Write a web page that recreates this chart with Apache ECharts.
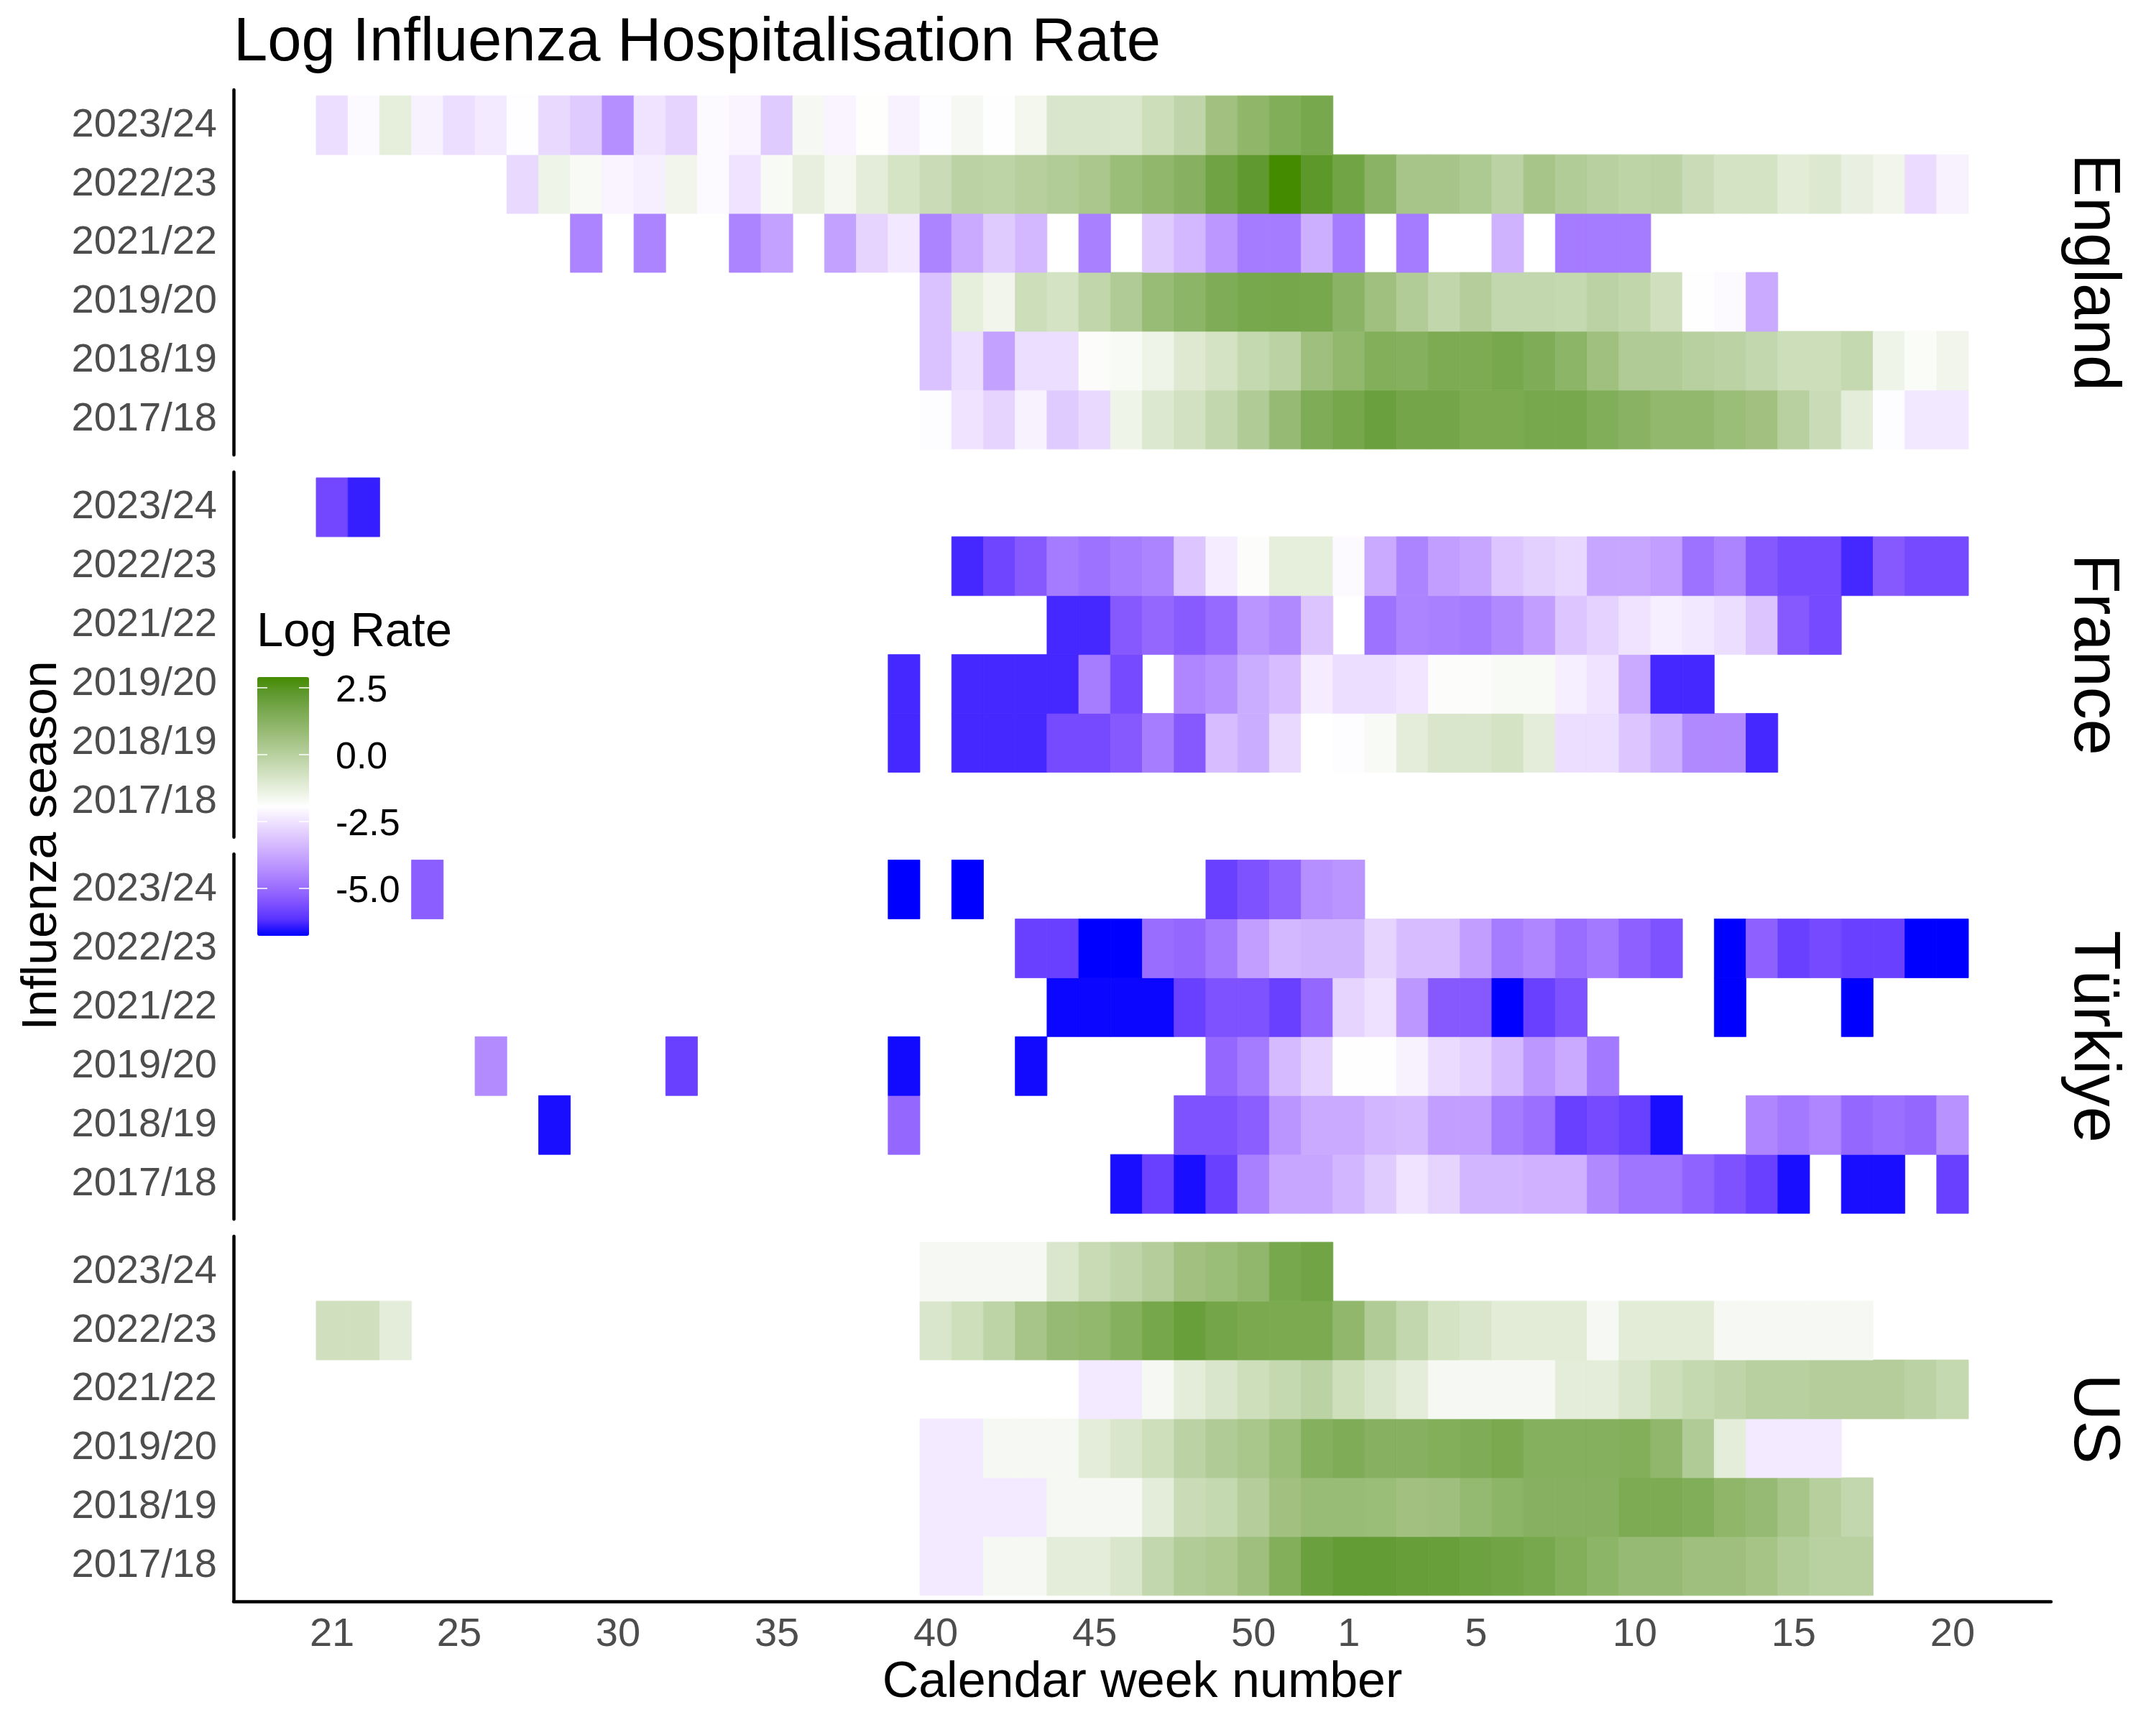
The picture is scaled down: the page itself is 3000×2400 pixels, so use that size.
<!DOCTYPE html>
<html>
<head>
<meta charset="utf-8">
<script src="https://cdn.jsdelivr.net/npm/echarts@6/dist/echarts.min.js"></script>
<style>
html,body{margin:0;padding:0;background:#fff;}
#chart{width:3000px;height:2400px;}
</style>
</head>
<body>
<div id="chart"></div>
<script>
const _ = null;

// x categories: calendar weeks in season order
const weeks = [21,22,23,24,25,26,27,28,29,30,31,32,33,34,35,36,37,38,39,40,41,42,43,44,45,46,47,48,49,50,51,52,
               1,2,3,4,5,6,7,8,9,10,11,12,13,14,15,16,17,18,19,20];
const tickWeeks = [21,25,30,35,40,45,50,1,5,10,15,20];
const seasons = ['2017/18','2018/19','2019/20','2021/22','2022/23','2023/24']; // bottom -> top
const countries = ['England','France','Türkiye','US'];
const legendTicks = [2.5, 0, -2.5, -5];
const valueRange = [-6.77, 2.9];

// Each row: weeks 21-30 | 31-40 | 41-52 | 1-10 | 11-20
const England_2324 = [-2.6,-2.05,-1.25,-2.2,-2.6,-2.35,-1.98,-2.7,-3.0,-4.3,
  -2.5,-2.8,-2.03,-2.15,-3.0,-1.7,-2.15,-1.9,-2.2,-2.0,
  -1.7,-1.95,-1.6,-0.9,-0.9,-0.95,-0.58,-0.2,0.6,1.1,1.45,1.7,
  _,_,_,_,_,_,_,_,_,_,
  _,_,_,_,_,_,_,_,_,_];
const England_2223 = [_,_,_,_,_,_,-2.7,-1.5,-1.75,-2.15,
  -2.25,-1.55,-2.05,-2.5,-1.75,-1.3,-1.65,-1.2,-0.8,-0.5,
  -0.1,-0.15,0.05,0.15,0.35,0.8,1.05,1.3,1.9,2.3,2.9,2.35,
  1.85,1.2,0.45,0.45,0.25,-0.1,0.45,0.15,0.0,-0.15,
  -0.1,-0.5,-0.75,-0.75,-1.15,-1.0,-1.35,-1.55,-2.65,-2.2];
const England_2122 = [_,_,_,_,_,_,_,_,-4.5,_,
  -4.5,_,_,-4.5,-3.9,_,-3.9,-2.8,-2.4,-4.5,
  -3.7,-3.0,-3.4,_,-4.6,_,-3.0,-3.4,-4.1,-4.7,-4.7,-3.6,
  -4.7,_,-4.7,_,_,-3.5,_,-4.7,-4.7,-4.7,
  _,_,_,_,_,_,_,_,_,_];
const England_1920 = [_,_,_,_,_,_,_,_,_,_,
  _,_,_,_,_,_,_,_,_,-3.2,
  -1.25,-1.55,-0.55,-0.75,-0.25,0.2,0.85,1.15,1.5,1.7,1.75,1.7,
  1.2,0.65,0.15,-0.25,0.1,-0.3,-0.3,-0.35,-0.1,-0.25,
  -0.65,-1.95,-2.05,-3.7,_,_,_,_,_,_];
const England_1819 = [_,_,_,_,_,_,_,_,_,_,
  _,_,_,_,_,_,_,_,_,-3.2,
  -2.6,-3.9,-2.6,-2.6,-1.85,-1.75,-1.5,-1.05,-0.75,-0.35,-0.1,0.7,
  1.0,1.4,1.35,1.55,1.55,1.7,1.5,1.15,0.65,0.2,
  0.2,0.0,-0.1,-0.3,-0.55,-0.55,-0.35,-1.5,-1.8,-1.55];
const England_1718 = [_,_,_,_,_,_,_,_,_,_,
  _,_,_,_,_,_,_,_,_,-2.0,
  -2.5,-2.8,-2.2,-3.0,-2.7,-1.5,-1.0,-0.7,-0.3,0.2,0.9,1.5,
  1.75,2.0,1.8,1.8,1.6,1.6,1.7,1.7,1.45,1.25,
  1.0,1.0,0.8,0.6,0.0,-0.5,-1.2,-2.0,-2.4,-2.4];

const France_2324 = [-5.75,-6.4,_,_,_,_,_,_,_,_,
  _,_,_,_,_,_,_,_,_,_,
  _,_,_,_,_,_,_,_,_,_,_,_,
  _,_,_,_,_,_,_,_,_,_,
  _,_,_,_,_,_,_,_,_,_];
const France_2223 = [_,_,_,_,_,_,_,_,_,_,
  _,_,_,_,_,_,_,_,_,_,
  -6.3,-5.8,-5.4,-4.7,-4.9,-4.65,-4.5,-3.1,-2.3,-1.85,-1.25,-1.25,
  -2.05,-3.7,-4.5,-3.95,-3.8,-3.1,-2.9,-2.75,-3.8,-3.8,
  -3.95,-4.9,-4.5,-5.4,-5.7,-5.7,-6.3,-5.4,-5.7,-5.7];
const France_2122 = [_,_,_,_,_,_,_,_,_,_,
  _,_,_,_,_,_,_,_,_,_,
  _,_,_,-6.3,-6.3,-5.4,-5.1,-5.35,-5.05,-4.15,-4.4,-3.15,
  _,-4.9,-4.5,-4.6,-4.7,-4.4,-3.95,-3.1,-2.85,-2.5,
  -2.25,-2.4,-2.6,-3.15,-5.4,-5.7,_,_,_,_];
const France_1920 = [_,_,_,_,_,_,_,_,_,_,
  _,_,_,_,_,_,_,_,-6.3,_,
  -6.3,-6.3,-6.3,-6.3,-4.65,-5.7,_,-4.45,-4.25,-3.65,-3.3,-2.3,
  -2.6,-2.6,-2.45,-1.85,-1.85,-1.75,-1.75,-2.25,-2.5,-3.7,
  -6.3,-6.3,_,_,_,_,_,_,_,_];
const France_1819 = [_,_,_,_,_,_,_,_,_,_,
  _,_,_,_,_,_,_,_,-6.3,_,
  -6.3,-6.3,-6.3,-5.7,-5.7,-5.4,-4.65,-5.4,-3.3,-3.65,-2.7,-1.93,
  -2.0,-1.75,-1.2,-0.9,-0.9,-0.75,-1.2,-2.6,-2.6,-3.1,
  -3.6,-4.4,-4.4,-6.3,_,_,_,_,_,_];
const France_1718 = [_,_,_,_,_,_,_,_,_,_,
  _,_,_,_,_,_,_,_,_,_,
  _,_,_,_,_,_,_,_,_,_,_,_,
  _,_,_,_,_,_,_,_,_,_,
  _,_,_,_,_,_,_,_,_,_];

const Turkiye_2324 = [_,_,_,-5.3,_,_,_,_,_,_,
  _,_,_,_,_,_,_,_,-6.77,_,
  -6.77,_,_,_,_,_,_,_,-5.9,-5.55,-5.2,-4.3,
  -4.15,_,_,_,_,_,_,_,_,_,
  _,_,_,_,_,_,_,_,_,_];
const Turkiye_2223 = [_,_,_,_,_,_,_,_,_,_,
  _,_,_,_,_,_,_,_,_,_,
  _,_,-5.9,-5.9,-6.77,-6.77,-5.0,-5.1,-4.75,-3.95,-3.4,-3.5,
  -3.5,-2.8,-3.3,-3.3,-3.95,-4.7,-4.45,-5.0,-4.75,-5.25,
  -5.55,_,-6.77,-5.25,-5.9,-5.7,-5.9,-5.9,-6.77,-6.77];
const Turkiye_2122 = [_,_,_,_,_,_,_,_,_,_,
  _,_,_,_,_,_,_,_,_,_,
  _,_,_,-6.7,-6.7,-6.7,-6.7,-5.9,-5.55,-5.55,-5.9,-5.1,
  -2.8,-2.55,-4.1,-5.4,-5.4,-6.77,-5.9,-5.55,_,_,
  _,_,-6.77,_,_,_,-6.77,_,_,_];
const Turkiye_1920 = [_,_,_,_,_,-4.35,_,_,_,_,
  _,-5.9,_,_,_,_,_,_,-6.65,_,
  _,_,-6.65,_,_,_,_,_,-5.1,-4.7,-3.35,-2.85,
  -1.95,-1.95,-2.2,-2.65,-2.85,-3.35,-4.1,-3.7,-4.75,_,
  _,_,_,_,_,_,_,_,_,_];
const Turkiye_1819 = [_,_,_,_,_,_,_,-6.6,_,_,
  _,_,_,_,_,_,_,_,-5.1,_,
  _,_,_,_,_,_,_,-5.55,-5.55,-5.3,-4.15,-3.7,
  -3.7,-3.45,-3.35,-3.95,-3.95,-4.7,-4.95,-5.9,-5.7,-5.9,
  -6.6,_,_,-4.45,-4.75,-4.45,-5.1,-4.95,-5.1,-4.2];
const Turkiye_1718 = [_,_,_,_,_,_,_,_,_,_,
  _,_,_,_,_,_,_,_,_,_,
  _,_,_,_,_,-6.6,-5.9,-6.6,-5.9,-4.6,-3.8,-3.8,
  -3.45,-3.0,-2.5,-2.8,-3.45,-3.45,-3.55,-3.55,-4.4,-4.85,
  -4.85,-5.2,-5.55,-5.9,-6.6,_,-6.6,-6.6,_,-5.9];

const US_2324 = [_,_,_,_,_,_,_,_,_,_,
  _,_,_,_,_,_,_,_,_,-1.7,
  -1.7,-1.7,-1.7,-0.95,-0.45,-0.2,0.1,0.6,0.8,1.05,1.7,1.85,
  _,_,_,_,_,_,_,_,_,_,
  _,_,_,_,_,_,_,_,_,_];
const US_2223 = [-0.65,-0.65,-1.2,_,_,_,_,_,_,_,
  _,_,_,_,_,_,_,_,_,-0.9,
  -0.6,-0.15,0.45,0.9,1.0,1.35,1.75,2.05,1.8,1.65,1.6,1.6,
  1.05,0.2,-0.3,-0.75,-0.9,-1.15,-1.15,-1.15,-1.7,-1.15,
  -1.15,-1.15,-1.7,-1.7,-1.7,-1.7,-1.7,_,_,_];
const US_2122 = [_,_,_,_,_,_,_,_,_,_,
  _,_,_,_,_,_,_,_,_,_,
  _,_,_,_,-2.35,-2.35,-1.7,-1.2,-0.9,-0.6,-0.35,-0.1,
  -0.6,-0.9,-1.2,-1.7,-1.7,-1.7,-1.7,-1.2,-1.2,-0.9,
  -0.55,-0.35,-0.2,0.0,0.0,0.1,0.1,0.1,-0.1,-0.35];
const US_1920 = [_,_,_,_,_,_,_,_,_,_,
  _,_,_,_,_,_,_,_,_,-2.35,
  -2.35,-1.7,-1.7,-1.7,-1.2,-0.9,-0.6,-0.1,0.2,0.4,0.8,1.35,
  1.5,1.3,1.3,1.4,1.5,1.65,1.35,1.35,1.35,1.4,
  1.05,0.2,-1.2,-2.35,-2.35,-2.35,_,_,_,_];
const US_1819 = [_,_,_,_,_,_,_,_,_,_,
  _,_,_,_,_,_,_,_,_,-2.35,
  -2.35,-2.35,-2.35,-1.7,-1.7,-1.7,-1.2,-0.5,-0.35,0.1,0.6,0.85,
  0.85,0.8,0.6,0.7,0.95,1.15,1.3,1.3,1.3,1.55,
  1.55,1.45,1.1,0.9,0.45,0.05,-0.3,_,_,_];
const US_1718 = [_,_,_,_,_,_,_,_,_,_,
  _,_,_,_,_,_,_,_,_,-2.35,
  -2.35,-1.7,-1.7,-1.2,-1.2,-0.9,-0.3,0.15,0.3,0.7,1.4,2.0,
  2.2,2.2,2.1,2.05,1.95,1.85,1.7,1.4,1.15,0.9,
  0.9,0.7,0.7,0.5,0.15,-0.05,-0.05,_,_,_];

// rows per facet, in the order of `seasons` (bottom -> top)
const facetRows = [
  [England_1718, England_1819, England_1920, England_2122, England_2223, England_2324],
  [France_1718, France_1819, France_1920, France_2122, France_2223, France_2324],
  [Turkiye_1718, Turkiye_1819, Turkiye_1920, Turkiye_2122, Turkiye_2223, Turkiye_2324],
  [US_1718, US_1819, US_1920, US_2122, US_2223, US_2324]
];

// ---------- styling ----------
const FONT = "'Liberation Sans', Arial, Helvetica, sans-serif";
const colorStops = ['#0000ff','#5932ff','#7e51ff','#9b6fff','#b38bff','#c8a8ff','#dcc4ff','#eee1ff','#ffffff',
                    '#e9f0e0','#d3e2c2','#bcd3a5','#a6c487','#8fb66a','#78a84d','#5f992f','#458b00'];
const panelLeft = 325, panelWidth = 2529, panelHeight = 508, panelTop0 = 125, panelStep = 531.67;
const xMin = -3.1, xMax = 54.1, yMin = -0.6, yMax = 5.6;
const tickIdx = tickWeeks.map(w => weeks.indexOf(w));

const grids = [], xAxes = [], yAxes = [], series = [];
countries.forEach((c, k) => {
  const last = k === countries.length - 1;
  grids.push({left: panelLeft, top: panelTop0 + k * panelStep, width: panelWidth, height: panelHeight, containLabel: false});
  xAxes.push({
    type: 'value', gridIndex: k, min: xMin, max: xMax, show: last,
    splitLine: {show: false}, axisTick: {show: false},
    axisLine: {show: last, onZero: false, lineStyle: {color: '#000', width: 4.5}},
    axisLabel: {show: last, customValues: tickIdx, formatter: v => String(weeks[v]),
      margin: 19, fontSize: 56, color: '#4d4d4d', fontFamily: FONT},
    name: last ? 'Calendar week number' : '', nameLocation: 'middle', nameGap: 79,
    nameTextStyle: {fontSize: 70, color: '#000', fontFamily: FONT}
  });
  yAxes.push({
    type: 'value', gridIndex: k, min: yMin, max: yMax,
    splitLine: {show: false}, axisTick: {show: false},
    axisLine: {show: true, onZero: false, lineStyle: {color: '#000', width: 4.5}},
    axisLabel: {customValues: [0,1,2,3,4,5], formatter: v => seasons[v],
      margin: 23, fontSize: 56, color: '#4d4d4d', fontFamily: FONT, padding: [7, 0, 0, 0]}
  });
  const data = [];
  facetRows[k].forEach((row, yi) => {
    row.forEach((v, xi) => { if (v !== null) data.push([xi, yi, v]); });
  });
  series.push({
    type: 'custom', name: c, xAxisIndex: k, yAxisIndex: k, data: data,
    encode: {x: 0, y: 1}, silent: true, animation: false,
    renderItem: function (params, api) {
      const x = api.value(0), y = api.value(1);
      const p0 = api.coord([x - 0.5, y + 0.5]);
      const p1 = api.coord([x + 0.5, y - 0.5]);
      const col = api.visual('color');
      return {type: 'rect',
        shape: {x: p0[0], y: p0[1], width: p1[0] - p0[0], height: p1[1] - p0[1]},
        style: {fill: col, stroke: col, lineWidth: 0.8}};
    }
  });
});

// legend (colour bar) geometry
const barLeft = 358, barTop = 942, barW = 72, barH = 360;
const tickY = v => barTop + (valueRange[1] - v) / (valueRange[1] - valueRange[0]) * barH;

const graphics = [];
graphics.push({type: 'text', x: 357, y: 881, style: {text: 'Log Rate', font: '67px ' + FONT, fill: '#000', align: 'left', verticalAlign: 'middle'}});
legendTicks.forEach(v => {
  const y = tickY(v);
  graphics.push({type: 'line', shape: {x1: barLeft, y1: y, x2: barLeft + 14, y2: y}, style: {stroke: '#fff', lineWidth: 1.5}, z: 100});
  graphics.push({type: 'line', shape: {x1: barLeft + barW - 14, y1: y, x2: barLeft + barW, y2: y}, style: {stroke: '#fff', lineWidth: 1.5}, z: 100});
  graphics.push({type: 'text', x: 467, y: y + 5, style: {text: v.toFixed(1), font: '52px ' + FONT, fill: '#000', align: 'left', verticalAlign: 'middle'}});
});
countries.forEach((c, k) => {
  graphics.push({type: 'text', x: 2912, y: panelTop0 + k * panelStep + panelHeight / 2, rotation: -Math.PI / 2,
    style: {text: c, font: '90px ' + FONT, fill: '#000', align: 'center', verticalAlign: 'middle'}});
});
graphics.push({type: 'text', x: 59, y: (panelTop0 + 3 * panelStep + panelHeight + panelTop0) / 2, rotation: Math.PI / 2,
  style: {text: 'Influenza season', font: '68px ' + FONT, fill: '#000', align: 'center', verticalAlign: 'middle'}});

const chart = echarts.init(document.getElementById('chart'), null, {renderer: 'canvas'});
chart.setOption({
  backgroundColor: '#ffffff',
  animation: false,
  title: {text: 'Log Influenza Hospitalisation Rate', left: 325, top: 18, padding: 0,
    textStyle: {fontSize: 85, fontWeight: 'normal', color: '#000', fontFamily: FONT}},
  grid: grids, xAxis: xAxes, yAxis: yAxes, series: series,
  visualMap: {
    type: 'continuous', min: valueRange[0], max: valueRange[1], dimension: 2,
    seriesIndex: [0, 1, 2, 3], inRange: {color: colorStops},
    show: true, calculable: false, orient: 'vertical', hoverLink: false,
    left: barLeft, top: barTop, itemWidth: barW, itemHeight: barH, padding: 0
  },
  graphic: graphics
});
</script>
</body>
</html>
